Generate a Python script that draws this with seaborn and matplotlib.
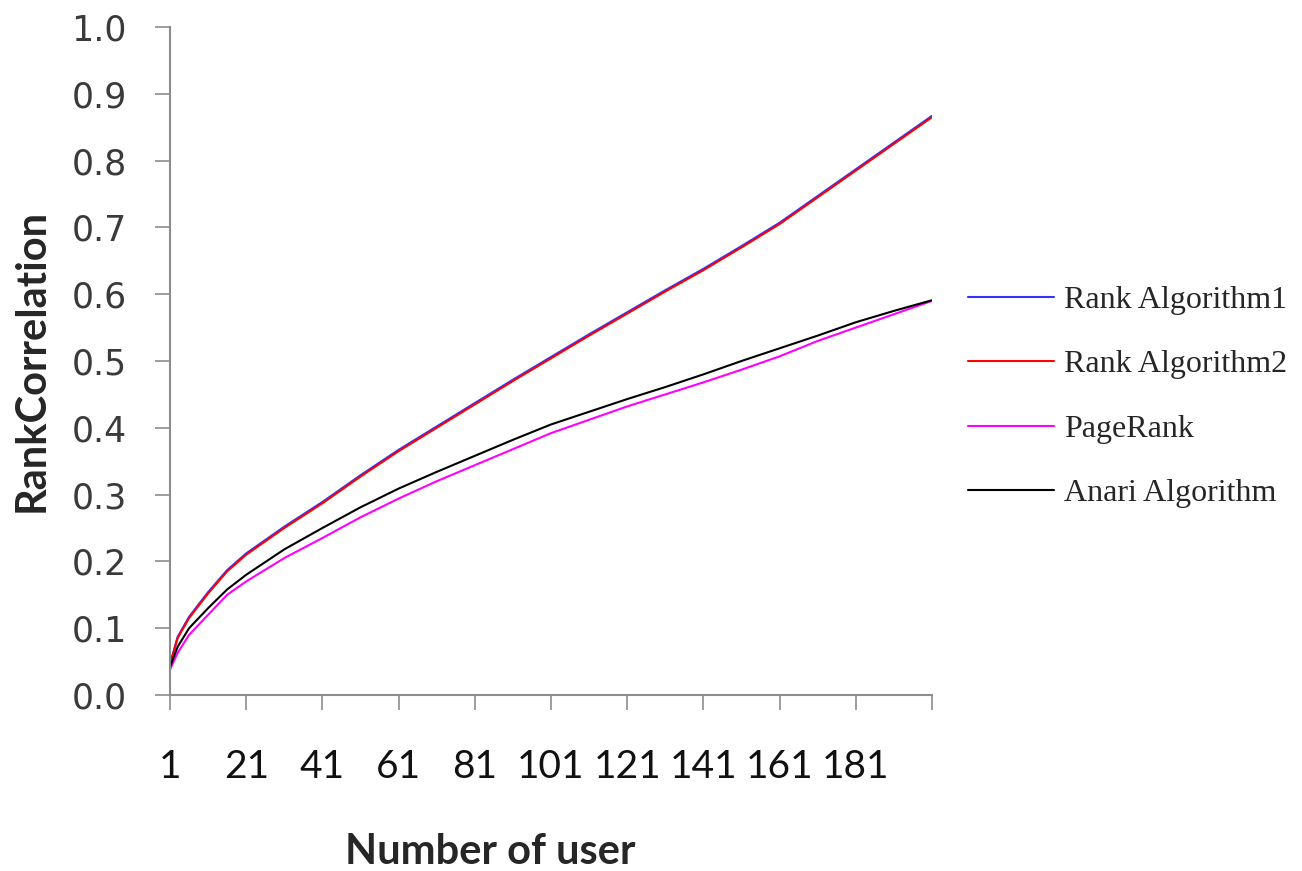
import numpy as np
import pandas as pd
import matplotlib
matplotlib.use("Agg")
import matplotlib.pyplot as plt
import seaborn as sns

users = [1, 3, 6, 11, 16, 21, 31, 41, 51, 61, 71, 81, 91, 101, 111, 121, 131, 141,
         151, 161, 171, 181, 191, 201]
rank_algorithm1 = [0.046, 0.087, 0.117, 0.154, 0.187, 0.212, 0.252, 0.289, 0.329, 0.367,
                   0.402, 0.437, 0.472, 0.506, 0.540, 0.573, 0.606, 0.638, 0.672, 0.707,
                   0.747, 0.787, 0.827, 0.867]
rank_algorithm2 = [0.045, 0.085, 0.115, 0.152, 0.185, 0.210, 0.250, 0.287, 0.327, 0.365,
                   0.400, 0.435, 0.470, 0.504, 0.538, 0.571, 0.604, 0.636, 0.670, 0.705,
                   0.745, 0.785, 0.825, 0.865]
pagerank = [0.038, 0.063, 0.090, 0.120, 0.150, 0.170, 0.205, 0.235, 0.266, 0.294,
            0.320, 0.344, 0.368, 0.392, 0.412, 0.432, 0.450, 0.468, 0.487, 0.507,
            0.530, 0.550, 0.570, 0.590]
anari = [0.042, 0.072, 0.100, 0.130, 0.158, 0.180, 0.218, 0.250, 0.281, 0.309,
         0.334, 0.358, 0.382, 0.405, 0.424, 0.443, 0.461, 0.480, 0.500, 0.519,
         0.538, 0.558, 0.575, 0.591]

series_names = ["Rank Algorithm1", "Rank Algorithm2", "PageRank", "Anari Algorithm"]
series_values = [rank_algorithm1, rank_algorithm2, pagerank, anari]
colors = ["#3333ff", "#ff0000", "#ff00ff", "#000000"]

x_ticks = [1, 21, 41, 61, 81, 101, 121, 141, 161, 181, 201]
x_ticklabels = ["1", "21", "41", "61", "81", "101", "121", "141", "161", "181", ""]
y_ticks = [0.0, 0.1, 0.2, 0.3, 0.4, 0.5, 0.6, 0.7, 0.8, 0.9, 1.0]

rows = []
for name, vals in zip(series_names, series_values):
    for u, v in zip(users, vals):
        rows.append({"users": u, "value": v, "series": name})
df = pd.DataFrame(rows)

sns.set_theme(style="white")
fig = plt.figure(figsize=(13.02, 8.71), dpi=100)
ax = fig.add_axes([170/1302, 1-695/871, (932-170)/1302, (695-27)/871])

sns.lineplot(data=df, x="users", y="value", hue="series", hue_order=series_names,
             palette=dict(zip(series_names, colors)), linewidth=1.5, ax=ax)

ax.set_xlim(1, 201)
ax.set_ylim(0, 1.0)
ax.set_xticks(x_ticks)
ax.set_xticklabels(x_ticklabels)
ax.set_yticks(y_ticks)
ax.set_yticklabels([f"{t:.1f}" for t in y_ticks])

for s in ["top", "right"]:
    ax.spines[s].set_visible(False)
for s in ["left", "bottom"]:
    ax.spines[s].set_color("#8c8c8c")
    ax.spines[s].set_linewidth(1.5)

ax.tick_params(axis="y", direction="out", length=11, width=1.2, color="#8c8c8c",
               pad=20, labelsize=25, labelcolor="#3a3a3a", left=True)
ax.tick_params(axis="x", direction="out", length=11, width=1.2, color="#8c8c8c",
               pad=28, labelsize=28, labelcolor="#111111", bottom=True)
for lab in ax.get_yticklabels():
    lab.set_family(["DejaVu Sans"])
for lab in ax.get_xticklabels():
    lab.set_family(["Lato", "DejaVu Sans"])

ax.set_xlabel("Number of user", fontsize=30, fontweight="bold", family=["Lato", "DejaVu Sans"])
ax.set_ylabel("RankCorrelation", fontsize=30, fontweight="bold", family=["Lato", "DejaVu Sans"])
ax.xaxis.set_label_coords((490-170)/762, (695-852)/668)
ax.yaxis.set_label_coords((32-170)/762, (695-360)/668)
ax.xaxis.label.set_va("center")
ax.yaxis.label.set_va("center")

leg = ax.legend(loc="center left", bbox_to_anchor=(968/1302, 1-397/871),
                bbox_transform=fig.transFigure, frameon=False,
                prop={"family": ["Liberation Serif"], "size": 23},
                handlelength=2.7, labelspacing=1.1, handletextpad=0.3,
                borderaxespad=0, borderpad=0)
for line in leg.get_lines():
    line.set_linewidth(1.5)

fig.savefig("out.png", dpi=100)
